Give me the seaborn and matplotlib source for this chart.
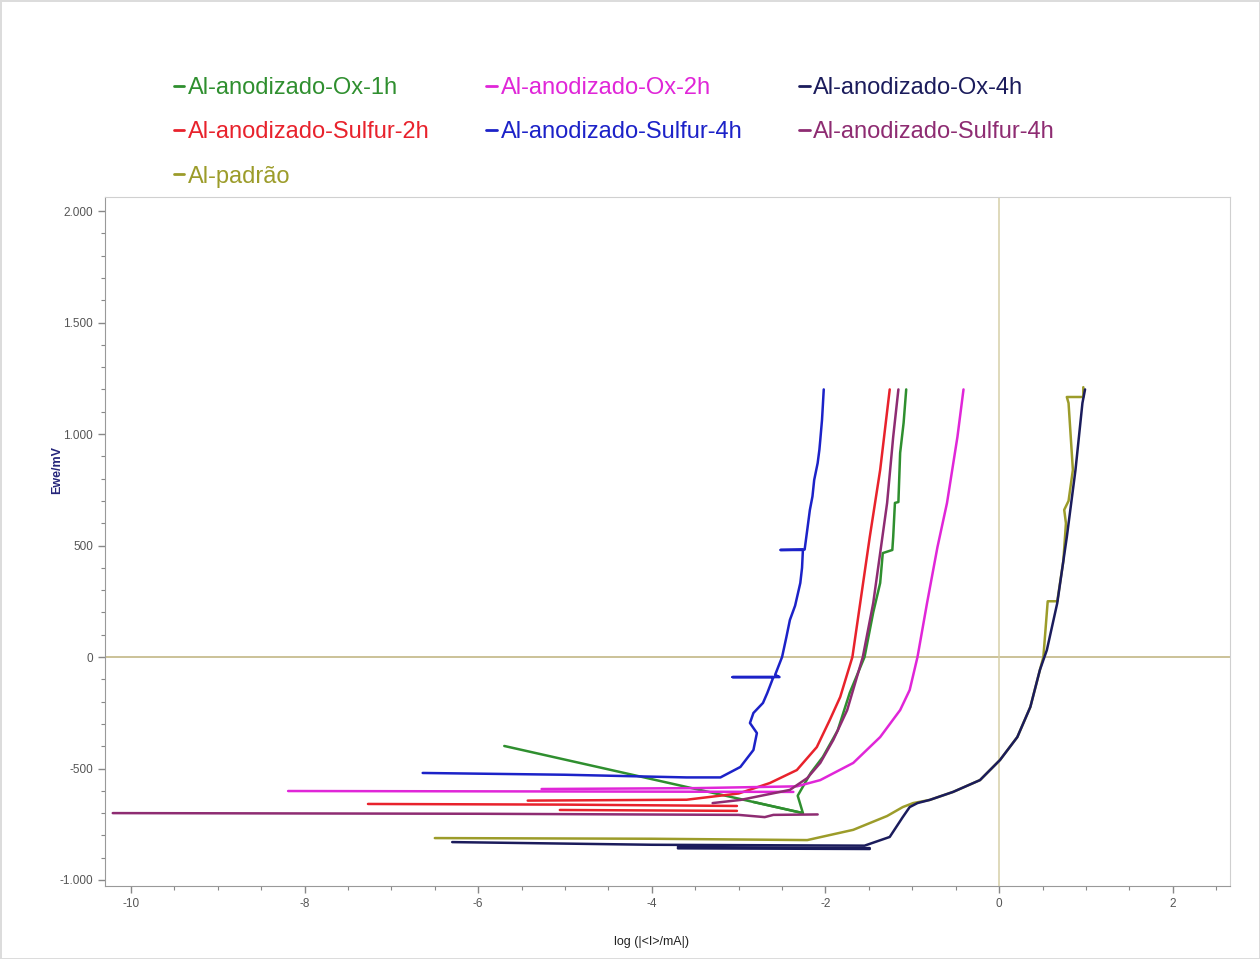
import pandas as pd
import matplotlib.pyplot as plt
import seaborn as sns
from matplotlib.lines import Line2D
from matplotlib.ticker import MultipleLocator

# Series (legend order) and colours
series_keys = ["ox1h", "s2h", "padrao", "ox2h", "s4h_blue", "ox4h", "s4h_purple"]
series_labels = ["Al-anodizado-Ox-1h", "Al-anodizado-Sulfur-2h", "Al-padrão",
                 "Al-anodizado-Ox-2h", "Al-anodizado-Sulfur-4h",
                 "Al-anodizado-Ox-4h", "Al-anodizado-Sulfur-4h"]
series_colors = ["#2f8f2f", "#e8222c", "#9c9c2a", "#e026d8", "#1c22c8",
                 "#1b1c5c", "#8e2c72"]

# Curves: segments of (log|I| / mA, Ewe / mV)
ox1h = [
    [(-5.70, -399), (-2.26, -700), (-2.32, -622), (-2.17, -520), (-2.03, -448),
     (-1.86, -330), (-1.72, -160), (-1.55, 0), (-1.45, 200), (-1.37, 332),
     (-1.34, 466), (-1.23, 480), (-1.22, 538), (-1.20, 691), (-1.16, 695),
     (-1.14, 915), (-1.10, 1050), (-1.07, 1200)],
    [(-2.83, -650), (-2.26, -700)],
]
s2h = [
    [(-7.27, -659), (-5.0, -662), (-3.02, -668)],
    [(-5.06, -686), (-3.02, -690)],
    [(-5.43, -644), (-3.6, -640), (-3.0, -612), (-2.64, -565), (-2.33, -507),
     (-2.10, -404), (-1.95, -282), (-1.83, -179), (-1.69, 0), (-1.60, 242),
     (-1.49, 538), (-1.37, 839), (-1.26, 1200)],
]
padrao = [
    [(-6.50, -812), (-4.0, -815), (-2.21, -821), (-1.68, -775), (-1.29, -713),
     (-1.11, -673), (-0.99, -655), (-0.80, -641), (-0.53, -605), (-0.22, -552),
     (0.01, -462), (0.21, -359), (0.36, -224), (0.47, -58), (0.51, 0),
     (0.56, 250), (0.67, 250), (0.74, 430), (0.77, 600), (0.75, 660),
     (0.80, 700), (0.85, 839), (0.80, 1139), (0.78, 1166), (0.97, 1166),
     (0.97, 1210)],
]
ox2h = [
    [(-8.19, -601), (-5.0, -603), (-2.37, -605)],
    [(-5.27, -592), (-3.5, -588), (-2.33, -580), (-2.06, -552), (-1.68, -475),
     (-1.37, -359), (-1.14, -238), (-1.03, -148), (-0.94, 0), (-0.83, 242),
     (-0.71, 493), (-0.60, 691), (-0.48, 987), (-0.41, 1200)],
]
s4h_blue = [
    [(-6.64, -520), (-5.0, -528), (-3.6, -540), (-3.21, -540), (-2.98, -493),
     (-2.83, -417), (-2.79, -341), (-2.87, -296), (-2.83, -251), (-2.72, -206),
     (-2.67, -161), (-2.60, -90), (-3.07, -90), (-2.53, -90), (-2.58, -80),
     (-2.50, 0), (-2.45, 90), (-2.41, 166), (-2.35, 230), (-2.29, 332),
     (-2.27, 400), (-2.26, 480), (-2.52, 480), (-2.24, 482), (-2.21, 570),
     (-2.18, 659), (-2.15, 720), (-2.13, 794), (-2.09, 870), (-2.07, 930),
     (-2.06, 973), (-2.04, 1063), (-2.03, 1130), (-2.02, 1200)],
]
ox4h = [
    [(-6.30, -830), (-4.0, -842), (-1.55, -846), (-1.26, -807), (-1.11, -718),
     (-1.03, -673), (-0.94, -655), (-0.80, -641), (-0.53, -605), (-0.22, -552),
     (0.01, -462), (0.21, -359), (0.36, -224), (0.47, -58), (0.55, 31),
     (0.67, 242), (0.78, 538), (0.88, 839), (0.96, 1139), (0.99, 1200)],
    [(-3.70, -852), (-1.49, -857)],
    [(-3.70, -858), (-1.49, -861)],
]
s4h_purple = [
    [(-10.21, -700), (-6.0, -703), (-3.0, -708), (-2.7, -718), (-2.6, -708),
     (-2.09, -706)],
    [(-3.3, -655), (-2.98, -641), (-2.41, -596), (-2.21, -543), (-2.06, -475),
     (-1.91, -372), (-1.75, -238), (-1.57, 0), (-1.45, 242), (-1.37, 466),
     (-1.29, 691), (-1.22, 987), (-1.16, 1200)],
]
series_data = [ox1h, s2h, padrao, ox2h, s4h_blue, ox4h, s4h_purple]

x_ticks = [-10, -8, -6, -4, -2, 0, 2]
y_ticks = [-1000, -500, 0, 500, 1000, 1500, 2000]
y_tick_labels = ["-1.000", "-500", "0", "500", "1.000", "1.500", "2.000"]

# Long table for seaborn
rows = []
for key, segs in zip(series_keys, series_data):
    for k, seg in enumerate(segs):
        for x, y in seg:
            rows.append({"serie": key, "unit": f"{key}_{k}", "logI": x, "E": y})
df = pd.DataFrame(rows)

sns.set_style("white")
plt.rcParams["font.family"] = ["Liberation Sans Narrow", "Liberation Sans", "DejaVu Sans"]
plt.rcParams["axes.unicode_minus"] = False

fig = plt.figure(figsize=(12.6, 9.59), dpi=100)
fig.patch.set_edgecolor("#dcdcdc")
fig.patch.set_linewidth(2)
ax = fig.add_axes([0.0833, 0.0761, 0.8929, 0.7185])

# Reference lines through the origin
ax.axhline(0, color="#bdb27c", lw=1.1, zorder=1)
ax.axvline(0, color="#d6cfa8", lw=1.1, zorder=1)

sns.lineplot(data=df, x="logI", y="E", hue="serie", units="unit",
             estimator=None, sort=False, hue_order=series_keys,
             palette=dict(zip(series_keys, series_colors)),
             lw=1.8, legend=False, ax=ax)

ax.set_xlim(-10.3, 2.66)
ax.set_ylim(-1027, 2063)
ax.set_xticks(x_ticks)
ax.set_yticks(y_ticks)
ax.set_yticklabels(y_tick_labels)
ax.xaxis.set_minor_locator(MultipleLocator(0.5))
ax.yaxis.set_minor_locator(MultipleLocator(100))
ax.tick_params(which="both", direction="out", colors="#888888", labelcolor="#555555",
               labelsize=8.5, bottom=True, left=True)
ax.tick_params(which="major", length=5, width=1)
ax.tick_params(which="minor", length=3, width=0.8)
for side in ["left", "bottom"]:
    ax.spines[side].set_color("#999999")
for side in ["top", "right"]:
    ax.spines[side].set_color("#d0d0d0")

ax.set_xlabel("log (|<I>/mA|)", fontsize=9, color="#222222")
ax.xaxis.set_label_coords(0.486, -0.072)
ax.set_ylabel("Ewe/mV", fontsize=9, fontweight="bold", color="#25257a")
ax.yaxis.set_label_coords(-0.037, 0.604)

handles = [Line2D([], [], color=c, lw=2) for c in series_colors]
fig.legend(handles, series_labels, loc="upper left", bbox_to_anchor=(0.121, 0.942),
           ncol=3, frameon=False, fontsize=17, handlelength=0.45,
           handletextpad=0.15, columnspacing=2.4, labelspacing=0.95,
           labelcolor=series_colors)

plt.savefig("out.png", dpi=100)
plt.close()
